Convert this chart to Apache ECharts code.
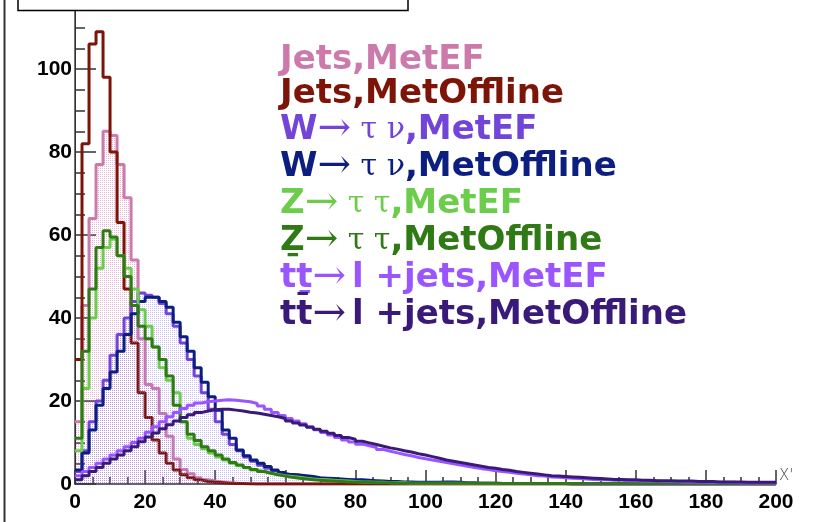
<!DOCTYPE html>
<html>
<head>
<meta charset="utf-8">
<script src="https://cdn.jsdelivr.net/npm/echarts@6/dist/echarts.min.js"></script>
<style>
html,body{margin:0;padding:0;background:#fff;}
#c{width:840px;height:522px;}
</style>
</head>
<body>
<div id="c"></div>
<script>
// ---- data (bin contents, 2-unit bins from 0 to 200) ----
const binWidth = 2;
const seriesNames = [
  'Jets,MetEF', 'Jets,MetOffline',
  'W→ τ ν,MetEF', 'W→ τ ν,MetOffline',
  'Z→ τ τ,MetEF', 'Z→ τ τ,MetOffline',
  'tt→ l +jets,MetEF', 'tt→ l +jets,MetOffline'
];
const yTickLabels = [0, 20, 40, 60, 80, 100];
const xTickLabels = [0, 20, 40, 60, 80, 100, 120, 140, 160, 180, 200];

const jetsEF = [15,43,64,77,85,84,77,69,54,35, 24,23,17,11.5,6,3.5,2.5,1.5,1,0.7, 0.5,0.3,0.2,0.1,0.1,0,0,0,0,0,
  0,0,0,0,0,0,0,0,0,0, 0,0,0,0,0,0,0,0,0,0, 0,0,0,0,0,0,0,0,0,0, 0,0,0,0,0,0,0,0,0,0,
  0,0,0,0,0,0,0,0,0,0, 0,0,0,0,0,0,0,0,0,0, 0,0,0,0,0,0,0,0,0,0];
const jetsOff = [30,82,106,109,98,80,63,47,34,22, 16,10.6,7.5,5,3.4,2.2,1.5,1,0.6,0.4, 0.3,0.2,0.1,0.1,0,0,0,0,0,0,
  0,0,0,0,0,0,0,0,0,0, 0,0,0,0,0,0,0,0,0,0, 0,0,0,0,0,0,0,0,0,0, 0,0,0,0,0,0,0,0,0,0,
  0,0,0,0,0,0,0,0,0,0, 0,0,0,0,0,0,0,0,0,0, 0,0,0,0,0,0,0,0,0,0];
const wEF = [3,8,15,20,25,31,36,40,44,46, 45.5,45,43.5,41,38,34,30,26,22,18, 15,12,9.5,8,6.5,5.5,4.5,3.8,3.2,2.6,
  2.2,1.9,1.6,1.4,1.2,1.1,1,0.9,0.8,0.7, 0.6,0.5,0.5,0.4,0.4,0.3,0.3,0.2,0.2,0.2, 0.1,0.1,0.1,0.1,0.1,0.1,0.1,0.1,0.1,0.1,
  0.1,0.1,0.1,0.1,0.1,0.1,0.1,0.1,0.1,0.1, 0,0,0,0,0,0,0,0,0,0, 0,0,0,0,0,0,0,0,0,0, 0,0,0,0,0,0,0,0,0,0];
const wOff = [3.4,7.5,13,19,23,27,32,36,41,44, 45,45,44,42.6,39,35.5,32,28,24.5,21, 17.8,13,11,8.2,6.8,5.8,5,4.2,3.4,2.8,
  2.3,2.2,2,1.8,1.5,1.4,1.3,1.2,1.1,1, 1,0.9,0.8,0.7,0.6,0.6,0.5,0.5,0.4,0.4, 0.4,0.4,0.5,0.5,0.4,0.3,0.3,0.2,0.2,0.2,
  0.1,0.1,0.1,0.1,0.1,0.1,0.1,0.1,0.1,0.1, 0,0,0,0,0,0,0,0,0,0, 0,0,0,0,0,0,0,0,0,0, 0,0,0,0,0,0,0,0,0,0];
const zEF = [8,23,40,52,57,59,55,52,47,42, 38,33,28,25,22,15,11,9.5,8.5,7.5, 6.5,5.8,5,4.4,3.9,3.4,3,2.6,2.3,2,
  1.8,1.6,1.4,1.2,1.1,1,0.9,0.8,0.7,0.6, 0.5,0.5,0.4,0.4,0.3,0.3,0.3,0.2,0.2,0.2, 0.2,0.2,0.2,0.2,0.2,0.2,0.2,0.2,0.2,0.2,
  0.1,0.1,0.1,0.1,0.1,0.1,0.1,0.1,0.1,0.1, 0.1,0.1,0.1,0.1,0.1,0.1,0.1,0.1,0.1,0.1, 0.1,0.1,0.1,0.1,0.1,0.1,0.1,0.1,0.1,0.1,
  0.1,0.1,0.1,0.1,0.1,0.1,0.1,0.1,0.1,0.1];
const zOff = [11,32,47,57,61,59.5,55,50,43,38, 35,33,30,26,19,15,12,10.5,9,8, 7,6,5.2,4.6,4,3.5,3,2.6,2.2,1.9,
  1.6,1.4,1.2,1,0.9,0.8,0.7,0.6,0.5,0.5, 0.4,0.4,0.3,0.3,0.3,0.2,0.2,0.2,0.2,0.2, 0.2,0.2,0.2,0.2,0.2,0.2,0.2,0.2,0.2,0.2,
  0.1,0.1,0.1,0.1,0.1,0.1,0.1,0.1,0.1,0.1, 0.1,0.1,0.1,0.1,0.1,0.1,0.1,0.1,0.1,0.1, 0.1,0.1,0.1,0.1,0.1,0.1,0.1,0.1,0.1,0.1,
  0.1,0.1,0.1,0.1,0.1,0.1,0.1,0.1,0.1,0.1];
const ttEF = [2,3,4,5,6,7,8,9,10,11, 12.5,13.8,15,16.2,17.2,18.2,19,19.5,19.8,20, 20.2,20.3,20.2,20,19.8,19.4,18.8,18,17.2,16.5,
  15.8,15.2,14.5,13.8,13.1,12.4,11.8,11.2,10.6,10.1, 9.6,9.2,8.8,8.3,7.9,7.5,7.1,6.8,6.4,6.1,
  5.8,5.5,5.2,4.9,4.6,4.3,4,3.7,3.5,3.2, 3,2.8,2.6,2.4,2.2,2,1.9,1.7,1.6,1.5,
  1.4,1.3,1.2,1.1,1,1,0.9,0.9,0.8,0.8, 0.7,0.7,0.7,0.6,0.6,0.6,0.5,0.5,0.5,0.5, 0.4,0.4,0.4,0.4,0.3,0.3,0.3,0.3,0.3,0.3];
const ttOff = [1,2,3,4,5,6,7,8,9,10.2, 11.3,12.3,13.3,14.3,15.2,16,16.7,17.2,17.6,17.9, 18,18,17.8,17.6,17.3,17.1,16.8,16.5,16.2,15.8,
  15.2,14.7,14.2,13.7,13.2,12.7,12.2,11.7,11.2,10.8, 10.3,9.9,9.5,9.1,8.7,8.4,8,7.7,7.3,7,
  6.6,6.2,5.8,5.5,5.2,4.9,4.6,4.3,4,3.8, 3.5,3.3,3,2.8,2.6,2.4,2.2,2,1.9,1.8,
  1.7,1.6,1.5,1.4,1.3,1.2,1.1,1.1,1,1, 0.9,0.9,0.8,0.8,0.8,0.7,0.7,0.7,0.6,0.6, 0.6,0.5,0.5,0.5,0.5,0.4,0.4,0.4,0.4,0.4];

const seriesValues = [jetsEF, jetsOff, wEF, wOff, zEF, zOff, ttEF, ttOff];
const colors = ['#cc7aab', '#7d1408', '#7244d8', '#0c1f80', '#6ccd4c', '#2f7a15', '#9a55ff', '#3a1a78'];
const fillColors = ['rgba(214,110,175,0.5)', null, 'rgba(140,110,240,0.45)', null, null, null, null, null];

function toSteps(vals) {
  const pts = vals.map((v, i) => [i * binWidth, v]);
  pts.push([vals.length * binWidth, vals[vals.length - 1]]);
  return pts;
}
function makePattern(color) {
  const c = document.createElement('canvas');
  c.width = 2; c.height = 2;
  const ctx = c.getContext('2d');
  ctx.fillStyle = color;
  ctx.fillRect(0, 0, 1, 1);
  return { image: c, repeat: 'repeat' };
}

// legend rich text: b = bold sans, a = arrow, s = greek/symbols
const legendParts = [
  [['b', 'Jets,MetEF']],
  [['b', 'Jets,MetOffline']],
  [['b', 'W'], ['a', '→'], ['s', ' τ ν'], ['b', ',MetEF']],
  [['b', 'W'], ['a', '→'], ['s', ' τ ν'], ['b', ',MetOffline']],
  [['b', 'Z'], ['a', '→'], ['s', ' τ τ'], ['b', ',MetEF']],
  [['b', 'Z\u0331'], ['a', '→'], ['s', ' τ τ'], ['b', ',MetOffline']],
  [['b', 'tt\u0331'], ['a', '→'], ['s', '\u2009'], ['b', 'l +jets,MetEF']],
  [['b', 'tt\u0304'], ['a', '→'], ['s', '\u2009'], ['b', 'l +jets,MetOffline']]
];
const rich = {};
colors.forEach((c, i) => {
  rich['b' + i] = { fontFamily: 'DejaVu Sans', fontWeight: 'bold', fontSize: 34, color: c, lineHeight: 37 };
  rich['a' + i] = { fontFamily: 'DejaVu Serif', fontWeight: 'normal', fontSize: 40, color: c, lineHeight: 37 };
  rich['s' + i] = { fontFamily: 'DejaVu Serif', fontWeight: 'normal', fontSize: 30, color: c, lineHeight: 37 };
});

const chart = echarts.init(document.getElementById('c'), null, { renderer: 'canvas' });

const series = seriesNames.map((name, i) => {
  const s = {
    name: name,
    type: 'line',
    step: 'end',
    symbol: 'none',
    data: toSteps(seriesValues[i]),
    lineStyle: { color: colors[i], width: 3 },
    itemStyle: { color: colors[i] },
    emphasis: { disabled: true },
    silent: true,
    z: 2 + i * 0.01
  };
  if (fillColors[i]) s.areaStyle = { color: makePattern(fillColors[i]), opacity: 1 };
  return s;
});

const option = {
  animation: false,
  backgroundColor: '#fff',
  grid: { left: 75, right: 64, top: 6.75, bottom: 38, show: false },
  legend: {
    orient: 'vertical', left: 275, top: 42, padding: 0, itemGap: -3,
    itemWidth: 0, itemHeight: 37, icon: 'rect', itemStyle: { opacity: 0 }, selectedMode: false,
    data: seriesNames,
    formatter: function (name) {
      const i = seriesNames.indexOf(name);
      return legendParts[i].map(p => '{' + p[0] + i + '|' + p[1] + '}').join('');
    },
    textStyle: { rich: rich }
  },
  xAxis: [{
    type: 'value', min: 0, max: 200, interval: 20,
    axisLine: { show: true, onZero: false, lineStyle: { color: '#333', width: 1.5 } },
    axisTick: { show: true, inside: true, length: 14, lineStyle: { color: '#333', width: 1.5 } },
    minorTick: { show: true, splitNumber: 4, length: 7, lineStyle: { color: '#333', width: 1.5 } },
    splitLine: { show: false },
    axisLabel: {
      margin: 8, color: '#000', fontFamily: 'Liberation Sans', fontWeight: 'bold', fontSize: 21,
      formatter: v => (xTickLabels.indexOf(v) >= 0 ? String(v) : '')
    },
    name: "X'", nameLocation: 'end', nameGap: 3,
    nameTextStyle: { color: '#444', fontFamily: 'DejaVu Sans', fontWeight: 'lighter', fontSize: 15, verticalAlign: 'bottom', padding: [0, 0, 0, 0] }
  }],
  yAxis: [{
    type: 'value', min: 0, max: 115, interval: 20,
    axisLine: { show: true, onZero: false, lineStyle: { color: '#444', width: 1.5 } },
    axisTick: { show: true, inside: true, length: 21, lineStyle: { color: '#333', width: 1.5 } },
    minorTick: { show: true, splitNumber: 4, length: 10, lineStyle: { color: '#333', width: 1.5 } },
    splitLine: { show: false },
    axisLabel: {
      margin: 3, color: '#000', fontFamily: 'Liberation Sans', fontWeight: 'bold', fontSize: 21,
      showMaxLabel: false,
      formatter: v => (yTickLabels.indexOf(v) >= 0 ? String(v) : '')
    }
  }, {
    type: 'value', min: 0, max: 115, position: 'right',
    axisLine: { show: true, lineStyle: { color: '#333', width: 1 } },
    axisTick: { show: false }, axisLabel: { show: false }, splitLine: { show: false }
  }],
  series: series,
  graphic: [
    { type: 'line', shape: { x1: 4.5, y1: 0, x2: 4.5, y2: 522 }, style: { stroke: '#333', lineWidth: 2 }, z: 100 },
    { type: 'rect', shape: { x: 18, y: -10, width: 390, height: 20.5 }, style: { fill: '#fff', stroke: '#000', lineWidth: 1.5 }, z: 100 }
  ]
};
chart.setOption(option);
</script>
</body>
</html>
